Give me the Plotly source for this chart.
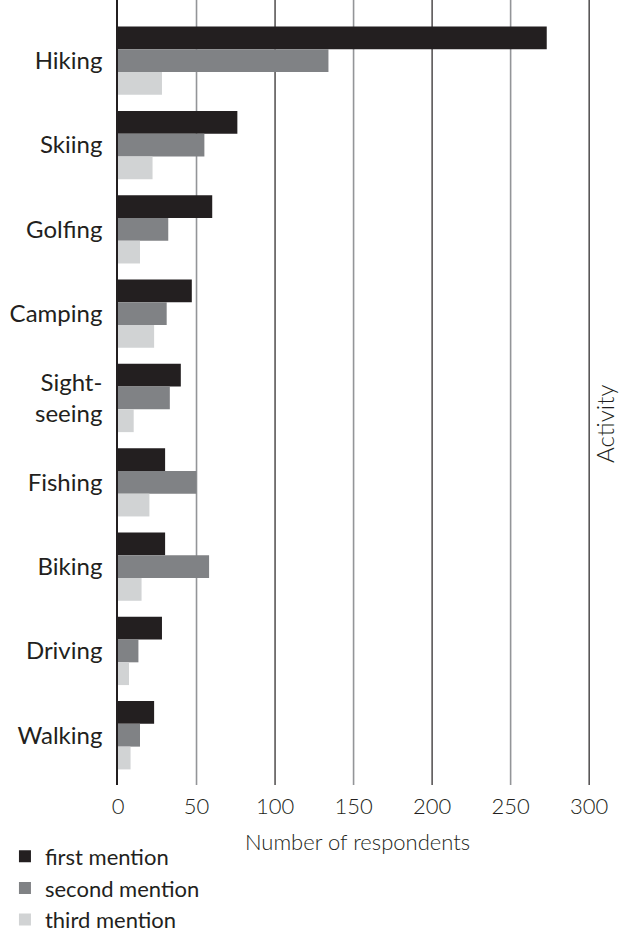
import plotly.graph_objects as go

# ---- data ----
activities = ["Hiking", "Skiing", "Golfing", "Camping", "Sight-<br>seeing",
              "Fishing", "Biking", "Driving", "Walking"]
first_mention = [273, 76, 60, 47, 40, 30, 30, 28, 23]
second_mention = [134, 55, 32, 31, 33, 50, 58, 13, 14]
third_mention = [28, 22, 14, 23, 10, 20, 15, 7, 8]
series_names = ["first mention", "second mention", "third mention"]
x_tick_values = [0, 50, 100, 150, 200, 250, 300]
major_grid = [100, 200, 300]
minor_grid = [50, 150, 250]

# ---- style ----
colors = ["#231f20", "#808285", "#d1d3d4"]
dark = "#231f20"
FONT = "Lato"

fig = go.Figure()
for name, vals, col in zip(series_names, [first_mention, second_mention, third_mention], colors):
    fig.add_trace(go.Bar(
        y=activities, x=vals, name=name, orientation="h",
        marker=dict(color=col, line=dict(width=0)),
    ))

shapes = []
for v in minor_grid:
    shapes.append(dict(type="line", xref="x", yref="paper", x0=v, x1=v, y0=0, y1=1,
                       line=dict(color="#939598", width=1.6), layer="below"))
for v in major_grid:
    shapes.append(dict(type="line", xref="x", yref="paper", x0=v, x1=v, y0=0, y1=1,
                       line=dict(color=dark, width=1.2), layer="below"))

fig.update_layout(
    width=624, height=932,
    margin=dict(l=118, r=27, t=0, b=147, autoexpand=False),
    paper_bgcolor="white", plot_bgcolor="white",
    barmode="group", bargap=0.19, bargroupgap=0,
    font=dict(family=FONT, color=dark),
    shapes=shapes,
    showlegend=True,
    legend=dict(
        x=-0.236, y=-0.0644, xanchor="left", yanchor="top",
        orientation="v", traceorder="normal",
        font=dict(family=FONT, size=22, color=dark),
        bgcolor="rgba(0,0,0,0)", itemclick=False,
    ),
    xaxis=dict(
        range=[0, 305], tickvals=x_tick_values, automargin=False,
        showgrid=False, zeroline=False, showline=False,
        tickfont=dict(family=FONT, size=22, color=dark, weight=300),
        ticks="", ticklabelstandoff=6,
        title=dict(text="Number of respondents", standoff=16,
                   font=dict(family=FONT, size=22, color=dark, weight=300)),
    ),
    yaxis=dict(
        categoryorder="array", categoryarray=activities, automargin=False,
        range=[8.59, -0.72],
        showgrid=False, zeroline=False,
        showline=True, linecolor=dark, linewidth=1.6,
        ticks="", ticklabelstandoff=9,
        tickfont=dict(family=FONT, size=24, color=dark),
    ),
    annotations=[dict(
        text="Activity", xref="paper", yref="paper",
        x=1.0167, y=0.46, xanchor="center", yanchor="middle",
        textangle=-90, showarrow=False,
        font=dict(family=FONT, size=24, color=dark, weight=300),
    )],
)

fig.write_html("out.html", config={"displayModeBar": False},
               post_script="document.body.style.margin='0';")
